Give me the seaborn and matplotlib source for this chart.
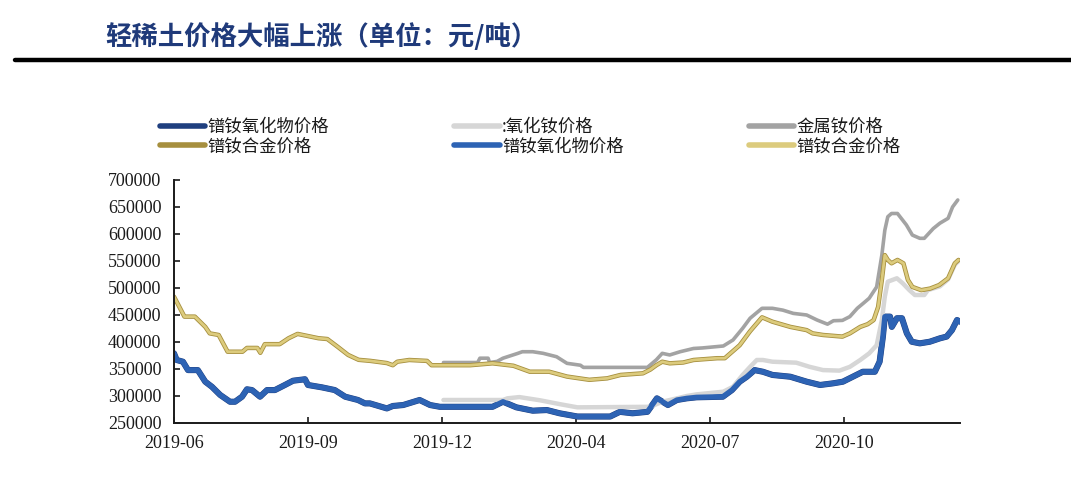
import matplotlib
matplotlib.use("Agg")
import matplotlib.pyplot as plt
import seaborn as sns
import pandas as pd
from matplotlib.lines import Line2D

# ---------------- data (trading-day index, 元/吨) ----------------
tick_pos = [0, 90, 180, 270, 360, 450]
tick_labels = ["2019-06", "2019-09", "2019-12", "2020-04", "2020-07", "2020-10"]

# 镨钕合金价格
alloy_x = [0, 7, 14, 21, 24, 30, 36, 46, 49, 56, 58, 61, 71, 77, 83, 90, 97, 103, 110, 117,
           124, 132, 143, 147, 150, 158, 170, 173, 199, 214, 228, 239, 252, 264, 279, 291, 300,
           315, 320, 324, 328, 333, 342, 349, 365, 370, 375, 380, 387, 395, 402, 414, 425, 429,
           436, 449, 454, 461, 466, 470, 473, 475.5, 477.5, 479.5, 482, 486, 490, 493, 496, 502,
           508, 514, 520, 524.5, 527]
alloy_y = [484000, 447000, 447000, 428000, 416000, 413000, 382000, 382000, 389000, 389000,
           380000, 396000, 396000, 407000, 415000, 411000, 407000, 405500, 391000, 376000,
           367000, 365000, 361000, 357000, 363500, 366700, 365000, 357000, 357000, 360500,
           356000, 345000, 345000, 336000, 330000, 332700, 339000, 342000, 349000, 357000,
           363500, 360500, 362000, 366700, 370000, 370000, 382000, 394000, 420000, 445700,
           437600, 428000, 422000, 416000, 413000, 410000, 416000, 428000, 433000, 440700,
           465000, 515000, 561000, 552000, 545700, 552000, 545700, 515000, 502000, 496000,
           499000, 505500, 518000, 545700, 552000]

# 金属钕价格
metal_x = [181, 204, 205.5, 211, 212, 217, 221, 231, 234, 241, 248, 257, 264, 273, 275, 318,
           324, 328, 333, 340, 349, 355, 369, 375.5, 382, 387, 395, 402, 409, 416, 425, 432,
           439, 443, 449, 454, 459, 463, 467, 472, 475.5, 477.5, 479.5, 482, 486, 492, 496,
           501, 504, 510, 514.5, 520, 523, 526.5]
metal_y = [362000, 362000, 370000, 370000, 362000, 364000, 370000, 379000, 382000, 382000,
           379000, 372700, 360500, 357000, 353000, 353000, 367000, 379000, 376000, 382000,
           388000, 389000, 392600, 403700, 425400, 444000, 462400, 462400, 459000, 453000,
           450000, 440700, 433000, 439400, 440000, 447000, 462400, 471600, 481000, 502000,
           561000, 607000, 632000, 638000, 638000, 616700, 598000, 592000, 592000, 610000,
           620000, 629000, 650000, 663000]

# 氧化钕价格
ndox_x = [181, 221, 224, 232, 246, 259, 271, 320, 328, 338, 344.5, 351, 369, 375.5, 382, 387,
          391.5, 395.6, 402, 418, 427, 436, 447, 454, 461, 467, 472, 475.5, 477.5, 479.5, 485.6,
          489.6, 494, 497.7, 504, 506.4, 514.5, 520, 524.5, 527]
ndox_y = [292600, 292600, 295700, 298000, 292000, 285000, 279000, 280000, 289400, 295700,
          300000, 303000, 308000, 317000, 339000, 354000, 366700, 366700, 363500, 361700,
          354000, 348000, 347000, 354000, 366700, 379000, 394000, 440700, 484000, 511700,
          518000, 508600, 496000, 487000, 487000, 496000, 503000, 516000, 543000, 550000]

# 镨钕氧化物价格
oxide_x = [0, 1.8, 6, 9.4, 16, 21, 25.5, 31, 37.6, 41, 45.7, 49, 52.4, 57.8, 62.5, 67.8, 74.5,
           80, 88, 90, 99.4, 108, 115, 123.6, 128.3, 131.6, 143, 147, 154, 165, 172, 178.6, 214,
           221, 230, 241, 250.5, 259, 271, 293, 299.5, 308, 318, 324.4, 331.8, 337.8, 344.5, 351,
           368.7, 374.8, 380, 384.8, 390, 395.6, 402, 414, 425, 434, 442.6, 449.3, 456, 462.7,
           470.8, 474, 476.2, 477.5, 481, 482.2, 485.6, 489, 492.3, 495.6, 501, 507.7, 514.5,
           519, 522.6, 526, 528]
oxide_y = [379000, 366700, 363500, 348000, 348000, 326500, 317000, 302000, 289400, 289400,
           298700, 312400, 311000, 298700, 311000, 311000, 320400, 328300, 331000, 320400,
           316000, 311000, 298700, 292600, 286300, 286300, 277000, 281500, 283300, 292600,
           283300, 280000, 280000, 289400, 279000, 272800, 274000, 268000, 262000, 262000,
           270700, 268000, 270700, 295700, 283300, 292600, 295700, 297600, 298700, 311000,
           326500, 335700, 348000, 344900, 339000, 335700, 326500, 320400, 323400, 326500,
           335700, 344900, 344900, 363500, 410000, 447000, 447000, 428000, 444000, 444000,
           416000, 400500, 397500, 400500, 406800, 410000, 422000, 440700, 437600]

labels = ["镨钕氧化物价格", ":氧化钕价格", "金属钕价格", "镨钕合金价格", "镨钕氧化物价格", "镨钕合金价格"]
title = "轻稀土价格大幅上涨（单位：元/吨）"

# ---------------- style ----------------
sns.set_theme(style="white")
plt.rcParams["font.family"] = ["Noto Sans CJK SC", "DejaVu Sans"]

c_navy = "#1f3f7f"
c_blue = "#2d63b4"
c_lgrey = "#d6d6d6"
c_grey = "#a3a3a3"
c_dgold = "#a68f3e"
c_lgold = "#dccb7d"

fig = plt.figure(figsize=(10.71, 4.99), dpi=100)
ax = fig.add_axes([174 / 1071, 1 - 423 / 499, (960 - 174) / 1071, (423 - 180) / 499])

def df(x, y):
    return pd.DataFrame({"x": x, "y": y})

# dark versions underneath (outline effect), light versions on top
sns.lineplot(data=df(oxide_x, oxide_y), x="x", y="y", ax=ax, color=c_navy, lw=4.4, estimator=None, sort=False)
sns.lineplot(data=df(ndox_x, ndox_y), x="x", y="y", ax=ax, color=c_lgrey, lw=3.2, estimator=None, sort=False)
sns.lineplot(data=df(metal_x, metal_y), x="x", y="y", ax=ax, color=c_grey, lw=2.6, estimator=None, sort=False)
sns.lineplot(data=df(alloy_x, alloy_y), x="x", y="y", ax=ax, color=c_dgold, lw=3.2, estimator=None, sort=False)
sns.lineplot(data=df(oxide_x, oxide_y), x="x", y="y", ax=ax, color=c_blue, lw=3.8, estimator=None, sort=False)
sns.lineplot(data=df(alloy_x, alloy_y), x="x", y="y", ax=ax, color=c_lgold, lw=2.0, estimator=None, sort=False)

ax.set_xlim(0, 528)
ax.set_ylim(250000, 700000)
ax.set_xticks(tick_pos)
ax.set_xticklabels(tick_labels)
ax.set_yticks(range(250000, 700001, 50000))
ax.set_yticklabels([str(v) for v in range(250000, 700001, 50000)])
ax.set_xlabel("")
ax.set_ylabel("")
for lab in ax.get_xticklabels() + ax.get_yticklabels():
    lab.set_fontfamily("Liberation Serif")
    lab.set_fontsize(13)
    lab.set_color("#1a1a1a")
ax.tick_params(axis="both", direction="in", length=4, width=1.2, colors="#1a1a1a",
               pad=9, left=True, bottom=True)
for s in ["top", "right"]:
    ax.spines[s].set_visible(False)
for s in ["left", "bottom"]:
    ax.spines[s].set_color("#1a1a1a")
    ax.spines[s].set_linewidth(1.4)
ax.grid(False)

# legend: column-major fill, 3 columns x 2 rows
handles = [
    Line2D([], [], color=c_navy, lw=4),
    Line2D([], [], color=c_dgold, lw=4),
    Line2D([], [], color=c_lgrey, lw=4),
    Line2D([], [], color=c_blue, lw=4),
    Line2D([], [], color=c_grey, lw=4),
    Line2D([], [], color=c_lgold, lw=4),
]
leg_labels = [labels[0], labels[3], labels[1], labels[4], labels[2], labels[5]]
leg = fig.legend(handles, leg_labels, ncol=3, loc="upper left",
                 bbox_to_anchor=(160 / 1071, 1 - 118 / 499), frameon=False,
                 prop={"family": ["Noto Sans CJK SC", "DejaVu Sans"], "size": 12.5},
                 handlelength=2.6, handletextpad=0.15, columnspacing=7.2,
                 labelspacing=0.08, borderaxespad=0, borderpad=0)
for t in leg.get_texts():
    t.set_color("#1a1a1a")

# title and rule
fig.text(105 / 1071, 1 - 37 / 499, title, fontsize=19, fontweight="heavy", color="#1f3a7a",
         va="center", ha="left", family=["Noto Sans CJK SC", "DejaVu Sans"])
fig.add_artist(Line2D([15 / 1071, 1.0], [1 - 60 / 499, 1 - 60 / 499], color="black", lw=3.2,
                      transform=fig.transFigure))

fig.savefig("out.png", dpi=100, facecolor="white")
